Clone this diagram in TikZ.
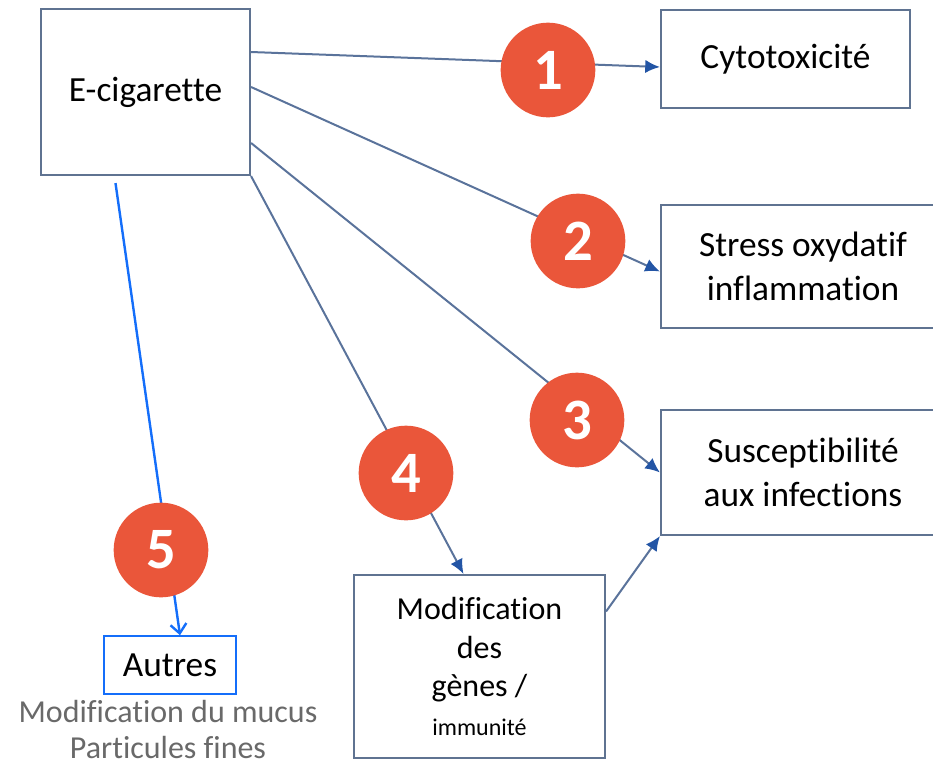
\documentclass[tikz,border=0pt]{standalone}
\usepackage{fontspec}
\setmainfont[Ligatures=NoCommon]{Carlito}
\usetikzlibrary{arrows.meta,positioning,calc}
\definecolor{boxline}{RGB}{95,115,145}
\definecolor{linkcol}{RGB}{90,115,155}
\definecolor{tipcol}{RGB}{35,85,165}
\definecolor{badgecol}{RGB}{234,86,58}
\definecolor{otherblue}{RGB}{20,110,250}
\definecolor{notegray}{RGB}{105,105,105}
\begin{document}
\begin{tikzpicture}[x=0.75pt,y=-0.75pt,
    effect/.style={draw=boxline,line width=1.6pt,fill=white,align=center,inner sep=0pt,font=\fontsize{26.5}{33}\selectfont},
    link/.style={draw=linkcol,line width=1.5pt,-{Latex[length=11pt,width=10pt,color=tipcol]}},
    badge/.style={circle,fill=badgecol,text=white,inner sep=0pt,minimum size=71pt,font=\fontsize{44}{44}\selectfont\bfseries}]
    \useasboundingbox (0,0) rectangle (933,765);

    % boxes
    \node[effect,minimum width=156.75pt,minimum height=124.5pt] (ecig) at (145.5,92) {E-cigarette};
    \node[effect,minimum width=186.75pt,minimum height=73.5pt] (cyto) at (785.5,59) {Cytotoxicité};
    \node[effect,minimum width=213pt,minimum height=92.25pt] (stress) at (803,266.5) {Stress oxydatif\\inflammation};
    \node[effect,minimum width=213pt,minimum height=93.75pt] (susc) at (803,472.5) {Susceptibilité\\aux infections};
    \node[effect,minimum width=188.25pt,minimum height=137.25pt,font=\fontsize{24}{29}\selectfont] (gene) at (479.5,666.5)
        {Modification\\des\\gènes /\\{\fontsize{18}{22}\selectfont immunité}};
    \node[effect,draw=otherblue,line width=1.2pt,minimum width=99pt,minimum height=43.5pt] (autres) at (170,665) {Autres};
    \node[anchor=north,align=center,text=notegray,font=\fontsize{24}{27}\selectfont,inner sep=0pt] (note) at (168,700)
        {Modification du mucus\\Particules fines};

    % connectors
    \draw[link] ($(ecig.east)+(0,-40)$) -- ($(cyto.west)+(0,8)$);
    \draw[link] ($(ecig.east)+(0,-5)$) -- ($(stress.west)+(0,5)$);
    \draw[link] ($(ecig.east)+(0,51)$) -- (susc.west);
    \draw[link] (ecig.south east) -- ($(gene.north)+(-16,0)$);
    \draw[link] ($(gene.east)+(0,-55)$) -- (susc.south west);
    \draw[otherblue,line width=1.8pt,-{Straight Barb[length=7pt,width=12pt]}] ($(ecig.south)+(-30,7)$) -- ($(autres.north)+(10,0)$);

    % numbers
    \node[badge] (n1) at (548,70) {1};
    \node[badge] (n2) at (578,241) {2};
    \node[badge] (n3) at (577,420) {3};
    \node[badge] (n4) at (406,473) {4};
    \node[badge] (n5) at (161,550) {5};
\end{tikzpicture}
\end{document}
